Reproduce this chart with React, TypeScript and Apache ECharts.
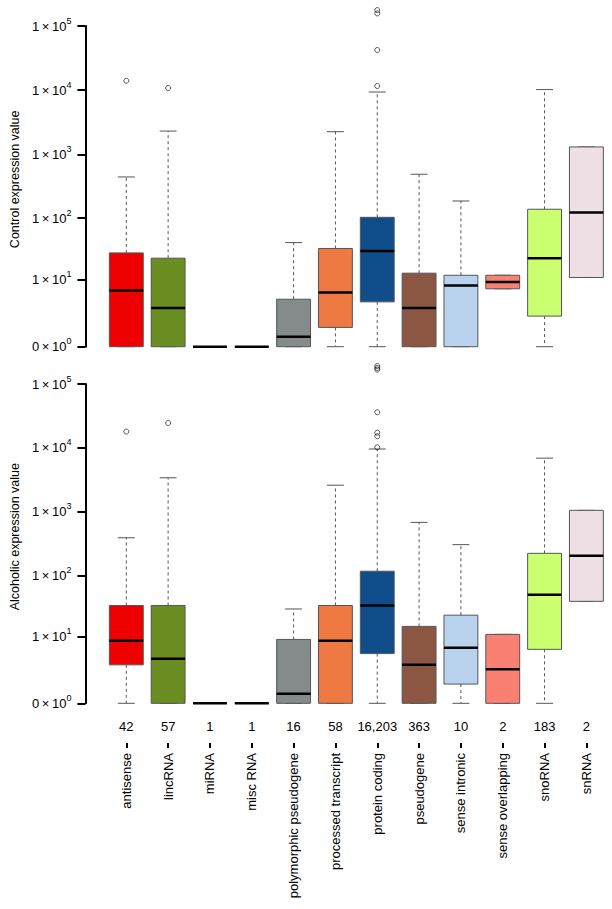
import React, { useEffect, useRef } from "react";
import * as echarts from "echarts";

const categories = [
  "antisense",
  "lincRNA",
  "miRNA",
  "misc RNA",
  "polymorphic pseudogene",
  "processed transcript",
  "protein coding",
  "pseudogene",
  "sense intronic",
  "sense overlapping",
  "snoRNA",
  "snRNA",
];

const geneCounts = ["42", "57", "1", "1", "16", "58", "16,203", "363", "10", "2", "183", "2"];

const boxColors = [
  "#EE0000",
  "#6B8E23",
  "#1C86EE",
  "#CD6600",
  "#838B8B",
  "#EE7942",
  "#104E8B",
  "#8B5742",
  "#B9D3EE",
  "#FA8072",
  "#CAFF70",
  "#EEE0E5",
];

// [lower whisker, Q1, median, Q3, upper whisker] (raw expression values)
const controlStats = [
  [0, 0, 6.5, 28, 442],
  [0, 0, 3, 23, 2300],
  [0, 0, 0, 0, 0],
  [0, 0, 0, 0, 0],
  [0, 0, 0.43, 4.5, 41],
  [0, 1, 6, 33, 2250],
  [0, 4, 30, 103, 9350],
  [0, 0, 3, 13, 487],
  [0, 0, 8, 12, 186],
  [7, 7, 9.2, 12, 12],
  [0, 2, 23, 138, 10200],
  [11, 11, 123, 1300, 1300],
];

// [category index, value]
const controlOutliers = [
  [0, 14000],
  [1, 10800],
  [6, 11600],
  [6, 42300],
  [6, 157000],
  [6, 177000],
];

const alcoholicStats = [
  [0, 3, 8.5, 33, 390],
  [0, 0, 4, 33, 3400],
  [0, 0, 0, 0, 0],
  [0, 0, 0, 0, 0],
  [0, 0, 0.41, 9, 29],
  [0, 0, 8.5, 33, 2600],
  [0, 5, 33, 116, 9600],
  [0, 0, 3, 15, 680],
  [0, 1, 6.4, 23, 304],
  [0, 0, 2.4, 11, 11],
  [0, 6, 49, 222, 6900],
  [38.5, 38.5, 204, 1050, 1050],
];

const alcoholicOutliers = [
  [0, 18000],
  [1, 24500],
  [6, 10200],
  [6, 15200],
  [6, 17300],
  [6, 36100],
  [6, 168000],
  [6, 178000],
  [6, 191000],
];

const yTickValues = [0, 10, 100, 1000, 10000, 100000];
const yTickMantissas = ["0", "1", "1", "1", "1", "1"];
const yTickExponents = ["0", "1", "2", "3", "4", "5"];

const FONT = "'Liberation Sans', Arial, Helvetica, sans-serif";

const tr = (v: number) => Math.log10(v + 1);

function boxRenderer(params: any, api: any) {
  const i = api.value(0);
  const lo = api.coord([i, api.value(1)]);
  const q1 = api.coord([i, api.value(2)]);
  const med = api.coord([i, api.value(3)]);
  const q3 = api.coord([i, api.value(4)]);
  const hi = api.coord([i, api.value(5)]);
  const band = api.size([1, 0])[0];
  const bw = band * 0.81;
  const cw = bw / 2;
  const x = med[0];
  const whisk = { stroke: "#555", lineWidth: 1, lineDash: [3, 3] };
  const cap = { stroke: "#555", lineWidth: 1 };
  return {
    type: "group",
    children: [
      { type: "line", shape: { x1: x, y1: q3[1], x2: x, y2: hi[1] }, style: whisk },
      { type: "line", shape: { x1: x, y1: q1[1], x2: x, y2: lo[1] }, style: whisk },
      { type: "line", shape: { x1: x - cw / 2, y1: hi[1], x2: x + cw / 2, y2: hi[1] }, style: cap },
      { type: "line", shape: { x1: x - cw / 2, y1: lo[1], x2: x + cw / 2, y2: lo[1] }, style: cap },
      {
        type: "rect",
        shape: { x: x - bw / 2, y: q3[1], width: bw, height: q1[1] - q3[1] },
        style: { fill: boxColors[i], stroke: "#555", lineWidth: 1 },
      },
      {
        type: "line",
        shape: { x1: x - bw / 2, y1: med[1], x2: x + bw / 2, y2: med[1] },
        style: { stroke: "#000", lineWidth: 2.5 },
      },
    ],
  };
}

function yAxisFor(gridIndex: number, name: string) {
  const ticks = yTickValues.map((v, k) => (k === yTickValues.length - 1 ? 5 : tr(v)));
  return {
    type: "value",
    gridIndex,
    position: "left",
    min: 0,
    max: 5,
    offset: 20,
    name,
    nameLocation: "middle",
    nameGap: 63,
    nameRotate: 90,
    nameTextStyle: { fontFamily: FONT, fontSize: 12.5, color: "#000", padding: [0, 0, 0, 14] },
    splitLine: { show: false },
    axisLine: { show: true, lineStyle: { color: "#000", width: 2 } },
    axisTick: { show: true, length: 8, lineStyle: { color: "#000", width: 2 }, customValues: ticks },
    axisLabel: {
      customValues: ticks,
      margin: 14,
      fontFamily: FONT,
      fontSize: 13,
      color: "#000",
      formatter: (val: number) => {
        const k = Math.min(5, Math.max(0, Math.round(val)));
        return `{n|${yTickMantissas[k]}\u2009×\u200910}{s|${yTickExponents[k]}}`;
      },
      rich: {
        n: { fontFamily: FONT, fontSize: 13, color: "#000", lineHeight: 20 },
        s: { fontFamily: FONT, fontSize: 9, color: "#000", lineHeight: 9, verticalAlign: "top" },
      },
    },
  };
}

function seriesFor(idx: number, stats: number[][], outliers: number[][]) {
  return [
    {
      type: "custom",
      xAxisIndex: idx === 0 ? 0 : 1,
      yAxisIndex: idx,
      renderItem: boxRenderer,
      clip: false,
      data: stats.map((s, i) => [i, ...s.map(tr)]),
      encode: { x: 0, y: [1, 2, 3, 4, 5] },
      z: 2,
    },
    {
      type: "scatter",
      xAxisIndex: idx === 0 ? 0 : 1,
      yAxisIndex: idx,
      clip: false,
      symbol: "circle",
      symbolSize: 5,
      itemStyle: { color: "rgba(255,255,255,0)", borderColor: "#000", borderWidth: 0.8 },
      data: outliers.map(([i, v]) => [i, tr(v)]),
      z: 3,
    },
  ];
}

export default function App() {
  const ref = useRef<HTMLDivElement>(null);
  useEffect(() => {
    if (!ref.current) return;
    const chart = echarts.init(ref.current, null, { renderer: "svg" });
    const option: any = {
      animation: false,
      backgroundColor: "#fff",
      grid: [
        { left: 103.3, right: 4.7, top: 26, height: 320.7 },
        { left: 103.3, right: 4.7, top: 384, height: 319.3 },
      ],
      xAxis: [
        { type: "category", gridIndex: 0, position: "bottom", data: categories, show: false },
        {
          type: "category",
          gridIndex: 1,
          position: "bottom",
          data: categories,
          offset: 39.7,
          axisLine: { show: true, onZero: false, lineStyle: { color: "rgba(0,0,0,0)", width: 0 } },
          axisTick: { show: true, alignWithLabel: true, length: 5, lineStyle: { color: "#000", width: 2 } },
          axisLabel: {
            interval: 0,
            rotate: 90,
            margin: 10,
            fontFamily: FONT,
            fontSize: 13,
            color: "#000",
          },
          splitLine: { show: false },
        },
        {
          type: "category",
          gridIndex: 1,
          position: "bottom",
          data: categories,
          offset: 0,
          axisLine: { show: false, onZero: false },
          axisTick: { show: false },
          axisLabel: {
            interval: 0,
            margin: 17,
            fontFamily: FONT,
            fontSize: 13,
            color: "#000",
            formatter: (_v: string, i: number) => geneCounts[i],
          },
          splitLine: { show: false },
        },
      ],
      yAxis: [yAxisFor(0, "Control expression value"), yAxisFor(1, "Alcoholic expression value")],
      series: [...seriesFor(0, controlStats, controlOutliers), ...seriesFor(1, alcoholicStats, alcoholicOutliers)],
    };
    chart.setOption(option);
    return () => chart.dispose();
  }, []);
  return (
    <div
      ref={ref}
      style={{ position: "absolute", left: 0, top: 0, width: 612, height: 909, background: "#fff" }}
    />
  );
}
